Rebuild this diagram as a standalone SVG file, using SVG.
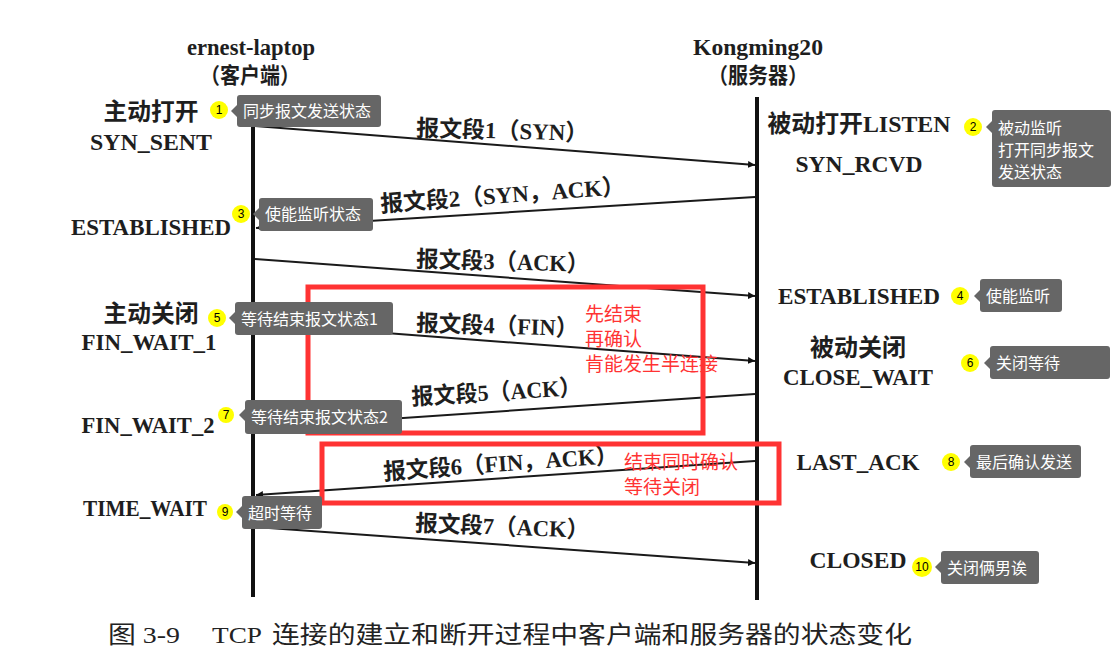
<svg xmlns="http://www.w3.org/2000/svg" width="1112" height="667" viewBox="0 0 1112 667">
<defs>
<marker id="ah" viewBox="0 0 10 10" refX="10" refY="5" markerWidth="7" markerHeight="7" markerUnits="userSpaceOnUse" orient="auto">
<path d="M0,0 L10,5 L0,10 z" fill="#111"/>
</marker>
<style>
.scan{font-family:"Liberation Serif","Noto Sans CJK SC",serif;fill:#1e1e1e;font-weight:bold;}
.cap{font-family:"Liberation Serif","Noto Sans CJK SC",serif;fill:#222;font-size:24px;}
.life{stroke:#111;stroke-width:4;}
.msg{stroke:#1a1a1a;stroke-width:2;fill:none;marker-end:url(#ah);}
.tip{fill:#666666;}
.tipt{font-family:"Noto Sans CJK SC","Noto Sans",sans-serif;font-size:16px;fill:#ffffff;}
.badge{fill:#ffff00;}
.bt{font-family:"Liberation Sans",Arial,sans-serif;font-size:12px;fill:#000;text-anchor:middle;}
.redbox{fill:none;stroke:#ff3333;stroke-width:5;}
.red{font-family:"Noto Sans CJK SC",sans-serif;font-size:19px;fill:#ff3333;}
.st{font-size:24px;text-anchor:middle;}
.ml{font-size:23px;}
</style>
</defs>
<rect width="1112" height="667" fill="#ffffff"/>

<g id="client">
<line class="life" x1="253" y1="95" x2="253" y2="597"/>
<text class="scan" x="251" y="55" font-size="23" text-anchor="middle" textLength="128" lengthAdjust="spacingAndGlyphs">ernest-laptop</text>
<text class="scan" x="250" y="83" font-size="22" text-anchor="middle" textLength="100" lengthAdjust="spacingAndGlyphs">（客户端）</text>
</g>
<g id="server">
<line class="life" x1="757" y1="97" x2="757" y2="600"/>
<text class="scan" x="758" y="55" font-size="23" text-anchor="middle" textLength="130" lengthAdjust="spacingAndGlyphs">Kongming20</text>
<text class="scan" x="758" y="83" font-size="22" text-anchor="middle" textLength="100" lengthAdjust="spacingAndGlyphs">（服务器）</text>
</g>

<g id="connectors">
<line class="msg" x1="255" y1="126" x2="755" y2="165"/>
<line class="msg" x1="755" y1="197" x2="256" y2="228"/>
<line class="msg" x1="255" y1="259" x2="755" y2="296"/>
<line class="msg" x1="255" y1="323" x2="755" y2="361"/>
<line class="msg" x1="755" y1="394" x2="256" y2="428"/>
<line class="msg" x1="755" y1="461" x2="256" y2="495"/>
<line class="msg" x1="255" y1="527" x2="755" y2="563"/>
</g>

<g id="msg-labels">
<text class="scan ml" x="416" y="136" transform="rotate(1.6 416 136)" textLength="172" lengthAdjust="spacingAndGlyphs">报文段1（SYN）</text>
<text class="scan ml" x="381" y="212" transform="rotate(-4.2 381 212)" textLength="245" lengthAdjust="spacingAndGlyphs">报文段2（SYN，ACK）</text>
<text class="scan ml" x="416" y="267" transform="rotate(1.6 416 267)" textLength="173" lengthAdjust="spacingAndGlyphs">报文段3（ACK）</text>
<text class="scan ml" x="416" y="331" transform="rotate(1.8 416 331)" textLength="162" lengthAdjust="spacingAndGlyphs">报文段4（FIN）</text>
<text class="scan ml" x="412" y="405" transform="rotate(-3.4 412 405)" textLength="170" lengthAdjust="spacingAndGlyphs">报文段5（ACK）</text>
<text class="scan ml" x="384" y="480" transform="rotate(-4.2 384 480)" textLength="235" lengthAdjust="spacingAndGlyphs">报文段6（FIN，ACK）</text>
<text class="scan ml" x="415" y="531" transform="rotate(2.3 415 531)" textLength="174" lengthAdjust="spacingAndGlyphs">报文段7（ACK）</text>
</g>

<g id="client-states">
<text class="scan st" x="151" y="120" textLength="95" lengthAdjust="spacingAndGlyphs">主动打开</text>
<text class="scan st" x="151" y="150" textLength="122" lengthAdjust="spacingAndGlyphs">SYN_SENT</text>
<text class="scan st" x="151" y="235" textLength="160" lengthAdjust="spacingAndGlyphs">ESTABLISHED</text>
<text class="scan st" x="151" y="322" textLength="95" lengthAdjust="spacingAndGlyphs">主动关闭</text>
<text class="scan st" x="149" y="350" textLength="135" lengthAdjust="spacingAndGlyphs">FIN_WAIT_1</text>
<text class="scan st" x="148" y="433" textLength="133" lengthAdjust="spacingAndGlyphs">FIN_WAIT_2</text>
<text class="scan st" x="145" y="516" font-size="21" textLength="124" lengthAdjust="spacingAndGlyphs">TIME_WAIT</text>
</g>

<g id="server-states">
<text class="scan st" x="859" y="132" textLength="183" lengthAdjust="spacingAndGlyphs">被动打开LISTEN</text>
<text class="scan st" x="859" y="172" textLength="127" lengthAdjust="spacingAndGlyphs">SYN_RCVD</text>
<text class="scan st" x="859" y="304" textLength="162" lengthAdjust="spacingAndGlyphs">ESTABLISHED</text>
<text class="scan st" x="858" y="356" textLength="96" lengthAdjust="spacingAndGlyphs">被动关闭</text>
<text class="scan st" x="858" y="385" textLength="150" lengthAdjust="spacingAndGlyphs">CLOSE_WAIT</text>
<text class="scan st" x="858" y="470" textLength="123" lengthAdjust="spacingAndGlyphs">LAST_ACK</text>
<text class="scan st" x="858" y="568" textLength="97" lengthAdjust="spacingAndGlyphs">CLOSED</text>
</g>

<g id="highlight-1">
<rect class="redbox" x="308" y="287" width="395" height="146"/>
<text class="red" x="585" y="321">先结束</text>
<text class="red" x="585" y="346">再确认</text>
<text class="red" x="585" y="371">肯能发生半连接</text>
</g>
<g id="highlight-2">
<rect class="redbox" x="322" y="444" width="457" height="59"/>
<text class="red" x="624" y="469">结束同时确认</text>
<text class="red" x="624" y="494">等待关闭</text>
</g>

<g id="note1">
<circle class="badge" cx="219" cy="110" r="9"/><text class="bt" x="219" y="114">1</text>
<rect class="tip" x="237" y="95" width="144" height="32" rx="3"/><path class="tip" d="M237,105 L231,111 L237,117 z"/>
<text class="tipt" x="243" y="117">同步报文发送状态</text>
</g>
<g id="note2">
<circle class="badge" cx="973" cy="127" r="9"/><text class="bt" x="973" y="131">2</text>
<rect class="tip" x="992" y="110" width="119" height="77" rx="3"/><path class="tip" d="M992,121 L986,127 L992,133 z"/>
<text class="tipt" x="998" y="134">被动监听</text>
<text class="tipt" x="998" y="156">打开同步报文</text>
<text class="tipt" x="998" y="178">发送状态</text>
</g>
<g id="note3">
<circle class="badge" cx="241" cy="214" r="9"/><text class="bt" x="241" y="218">3</text>
<rect class="tip" x="259" y="198" width="114" height="33" rx="3"/><path class="tip" d="M259,208 L253,214 L259,220 z"/>
<text class="tipt" x="265" y="220">使能监听状态</text>
</g>
<g id="note4">
<circle class="badge" cx="960" cy="296" r="9"/><text class="bt" x="960" y="300">4</text>
<rect class="tip" x="980" y="279" width="82" height="33" rx="3"/><path class="tip" d="M980,290 L974,296 L980,302 z"/>
<text class="tipt" x="986" y="302">使能监听</text>
</g>
<g id="note5">
<circle class="badge" cx="217" cy="318" r="9"/><text class="bt" x="217" y="322">5</text>
<rect class="tip" x="235" y="302" width="158" height="33" rx="3"/><path class="tip" d="M235,312 L229,318 L235,324 z"/>
<text class="tipt" x="241" y="325">等待结束报文状态1</text>
</g>
<g id="note6">
<circle class="badge" cx="970" cy="363" r="9"/><text class="bt" x="970" y="367">6</text>
<rect class="tip" x="990" y="346" width="120" height="33" rx="3"/><path class="tip" d="M990,357 L984,363 L990,369 z"/>
<text class="tipt" x="996" y="369">关闭等待</text>
</g>
<g id="note7">
<circle class="badge" cx="226" cy="415" r="8"/><text class="bt" x="226" y="419">7</text>
<rect class="tip" x="245" y="400" width="157" height="34" rx="3"/><path class="tip" d="M245,409 L239,415 L245,421 z"/>
<text class="tipt" x="251" y="423">等待结束报文状态2</text>
</g>
<g id="note8">
<circle class="badge" cx="951" cy="462" r="9"/><text class="bt" x="951" y="466">8</text>
<rect class="tip" x="970" y="445" width="111" height="33" rx="3"/><path class="tip" d="M970,456 L964,462 L970,468 z"/>
<text class="tipt" x="976" y="468">最后确认发送</text>
</g>
<g id="note9">
<circle class="badge" cx="225" cy="512" r="8"/><text class="bt" x="225" y="516">9</text>
<rect class="tip" x="242" y="496" width="80" height="33" rx="3"/><path class="tip" d="M242,506 L236,512 L242,518 z"/>
<text class="tipt" x="248" y="519">超时等待</text>
</g>
<g id="note10">
<circle class="badge" cx="922" cy="567" r="10"/><text class="bt" x="922" y="571">10</text>
<rect class="tip" x="941" y="551" width="98" height="33" rx="3"/><path class="tip" d="M941,561 L935,567 L941,573 z"/>
<text class="tipt" x="947" y="574">关闭俩男诶</text>
</g>

<g id="caption">
<text class="cap" x="108" y="643" textLength="72" lengthAdjust="spacingAndGlyphs">图 3-9</text>
<text class="cap" x="212" y="643" textLength="50" lengthAdjust="spacingAndGlyphs">TCP</text>
<text class="cap" x="272" y="643" textLength="640" lengthAdjust="spacingAndGlyphs">连接的建立和断开过程中客户端和服务器的状态变化</text>
</g>
</svg>
